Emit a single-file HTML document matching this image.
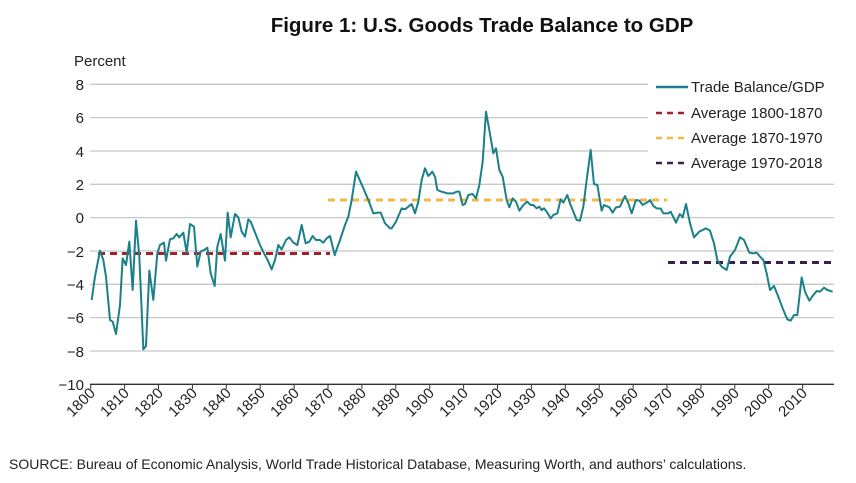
<!DOCTYPE html>
<html><head><meta charset="utf-8"><style>
body{margin:0;background:#fff;}
svg{display:block;font-family:"Liberation Sans",Arial,sans-serif;}
</style></head><body>
<svg width="856" height="483" viewBox="0 0 856 483">
<text x="482" y="32" text-anchor="middle" font-size="20.5" font-weight="bold" fill="#111">Figure 1: U.S. Goods Trade Balance to GDP</text>
<text x="74" y="66" font-size="15" fill="#222">Percent</text>
<g stroke="#c8c8c8" stroke-width="1.3">
<line x1="90" y1="84.3" x2="648" y2="84.3"/>
<line x1="90" y1="117.6" x2="648" y2="117.6"/>
<line x1="90" y1="151" x2="648" y2="151"/>
<line x1="90" y1="184.3" x2="834" y2="184.3"/>
<line x1="90" y1="217.6" x2="834" y2="217.6"/>
<line x1="90" y1="251" x2="834" y2="251"/>
<line x1="90" y1="284.3" x2="834" y2="284.3"/>
<line x1="90" y1="317.6" x2="834" y2="317.6"/>
<line x1="90" y1="351" x2="834" y2="351"/>
</g>
<line x1="90" y1="384.3" x2="834" y2="384.3" stroke="#333" stroke-width="1.3"/>
<g font-size="15" fill="#222" text-anchor="end">
<text x="84" y="90">8</text><text x="84" y="123">6</text><text x="84" y="157">4</text><text x="84" y="190">2</text><text x="84" y="223">0</text><text x="84" y="257">−2</text><text x="84" y="290">−4</text><text x="84" y="323">−6</text><text x="84" y="357">−8</text><text x="84" y="390">−10</text>
</g>
<g stroke="#333" stroke-width="1">
<line x1="90.7" y1="384" x2="90.7" y2="389"/><line x1="124.6" y1="384" x2="124.6" y2="389"/><line x1="158.5" y1="384" x2="158.5" y2="389"/><line x1="192.4" y1="384" x2="192.4" y2="389"/><line x1="226.3" y1="384" x2="226.3" y2="389"/><line x1="260.2" y1="384" x2="260.2" y2="389"/><line x1="294.1" y1="384" x2="294.1" y2="389"/><line x1="328" y1="384" x2="328" y2="389"/><line x1="361.9" y1="384" x2="361.9" y2="389"/><line x1="395.8" y1="384" x2="395.8" y2="389"/><line x1="429.7" y1="384" x2="429.7" y2="389"/><line x1="463.6" y1="384" x2="463.6" y2="389"/><line x1="497.5" y1="384" x2="497.5" y2="389"/><line x1="531.4" y1="384" x2="531.4" y2="389"/><line x1="565.3" y1="384" x2="565.3" y2="389"/><line x1="599.2" y1="384" x2="599.2" y2="389"/><line x1="633.1" y1="384" x2="633.1" y2="389"/><line x1="667" y1="384" x2="667" y2="389"/><line x1="700.9" y1="384" x2="700.9" y2="389"/><line x1="734.8" y1="384" x2="734.8" y2="389"/><line x1="768.7" y1="384" x2="768.7" y2="389"/><line x1="802.6" y1="384" x2="802.6" y2="389"/>
</g>
<g font-size="15" fill="#222" text-anchor="end">
<text transform="translate(96,394) rotate(-45)">1800</text><text transform="translate(130,394) rotate(-45)">1810</text><text transform="translate(164,394) rotate(-45)">1820</text><text transform="translate(198,394) rotate(-45)">1830</text><text transform="translate(232,394) rotate(-45)">1840</text><text transform="translate(266,394) rotate(-45)">1850</text><text transform="translate(300,394) rotate(-45)">1860</text><text transform="translate(334,394) rotate(-45)">1870</text><text transform="translate(367,394) rotate(-45)">1880</text><text transform="translate(401,394) rotate(-45)">1890</text><text transform="translate(435,394) rotate(-45)">1900</text><text transform="translate(469,394) rotate(-45)">1910</text><text transform="translate(503,394) rotate(-45)">1920</text><text transform="translate(537,394) rotate(-45)">1930</text><text transform="translate(571,394) rotate(-45)">1940</text><text transform="translate(605,394) rotate(-45)">1950</text><text transform="translate(639,394) rotate(-45)">1960</text><text transform="translate(673,394) rotate(-45)">1970</text><text transform="translate(706,394) rotate(-45)">1980</text><text transform="translate(740,394) rotate(-45)">1990</text><text transform="translate(774,394) rotate(-45)">2000</text><text transform="translate(808,394) rotate(-45)">2010</text>
</g>
<g stroke-width="3" stroke-dasharray="7,5" fill="none">
<line x1="98" y1="253.5" x2="330" y2="253.5" stroke="#a3212b"/>
<line x1="328" y1="200" x2="667" y2="200" stroke="#f2b84b"/>
<line x1="668" y1="262.5" x2="834" y2="262.5" stroke="#3d1f4f"/>
</g>
<g fill="none" stroke="#1a8089" stroke-width="2" stroke-linejoin="round">
<polyline transform="translate(40,60) scale(0.33333)" vector-effect="non-scaling-stroke" points="155,720 165,650 180,572 190,600 198,650 210,780 218,785 228,822 240,735 248,595 258,615 268,545 278,690 288,482 298,590 310,868 318,858 328,632 340,720 352,580 360,555 372,548 378,602 390,538 400,535 410,522 418,532 430,518 440,578 450,492 462,500 472,620 482,575 492,570 502,563 512,640 524,678 532,560 542,522 555,602 563,458 572,532 585,462 595,472 605,515 615,530 625,478 632,485 648,525 660,555 672,580 682,598 695,628 705,600 715,555 725,568 738,540 748,532 760,548 772,555 785,495 797,550 808,545 818,528 828,540 840,540 850,548 860,535 870,528 885,588"/>
<polyline transform="translate(320,100) scale(0.33333)" vector-effect="non-scaling-stroke" points="45,462 60,420 75,375 85,350 95,300 108,215 128,260 145,300 160,340 175,338 182,338 195,370 210,385 215,385 228,365 245,325 255,328 275,312 285,340 295,305 305,240 315,205 325,228 337,215 345,230 352,270 365,275 382,280 400,280 410,275 418,275 428,315 435,312 445,285 458,282 468,295 478,255 488,185 498,35 508,90 520,160 528,145 538,210 548,230 560,300 568,322 578,295 588,305 598,332 610,315 622,305 632,315 640,315 650,325 658,320 665,330 672,325 680,335 692,355 700,345 712,340 722,298 730,308 742,285 750,310 760,335 770,360 780,362 790,320 800,240 812,150 822,252 832,255 845,332 852,315 868,322 878,338 888,322 900,320 915,288 925,310 935,340 948,300 958,302 968,315 985,305 990,300 1000,318 1010,325 1022,326 1030,340 1045,340 1052,335 1068,368 1080,340"/>
<polyline transform="translate(600,60) scale(0.33333)" vector-effect="non-scaling-stroke" points="240,462 248,472 258,432 270,490 282,532 298,515 318,505 330,512 342,550 352,600 365,620 380,630 390,590 405,570 420,532 432,540 448,578 460,580 470,578 480,590 490,600 500,640 510,690 522,678 535,710 548,745 562,778 572,782 582,765 592,765 605,652 615,695 628,722 640,705 650,693 660,695 672,683 682,690 698,695"/>
</g>
<rect x="650" y="72" width="190" height="110" fill="#fff"/>
<g stroke-width="2.5" fill="none">
<line x1="656" y1="87" x2="688" y2="87" stroke="#1a8089"/>
<line x1="656" y1="113" x2="688" y2="113" stroke="#a3212b" stroke-dasharray="6,5"/>
<line x1="656" y1="138" x2="688" y2="138" stroke="#f2b84b" stroke-dasharray="6,5"/>
<line x1="656" y1="163" x2="688" y2="163" stroke="#3d1f4f" stroke-dasharray="6,5"/>
</g>
<g font-size="15" fill="#222">
<text x="691" y="92">Trade Balance/GDP</text>
<text x="691" y="118">Average 1800-1870</text>
<text x="691" y="143">Average 1870-1970</text>
<text x="691" y="168">Average 1970-2018</text>
</g>
<text x="9" y="469" font-size="14" fill="#222">SOURCE: Bureau of Economic Analysis, World Trade Historical Database, Measuring Worth, and authors’ calculations.</text>
</svg>
</body></html>
